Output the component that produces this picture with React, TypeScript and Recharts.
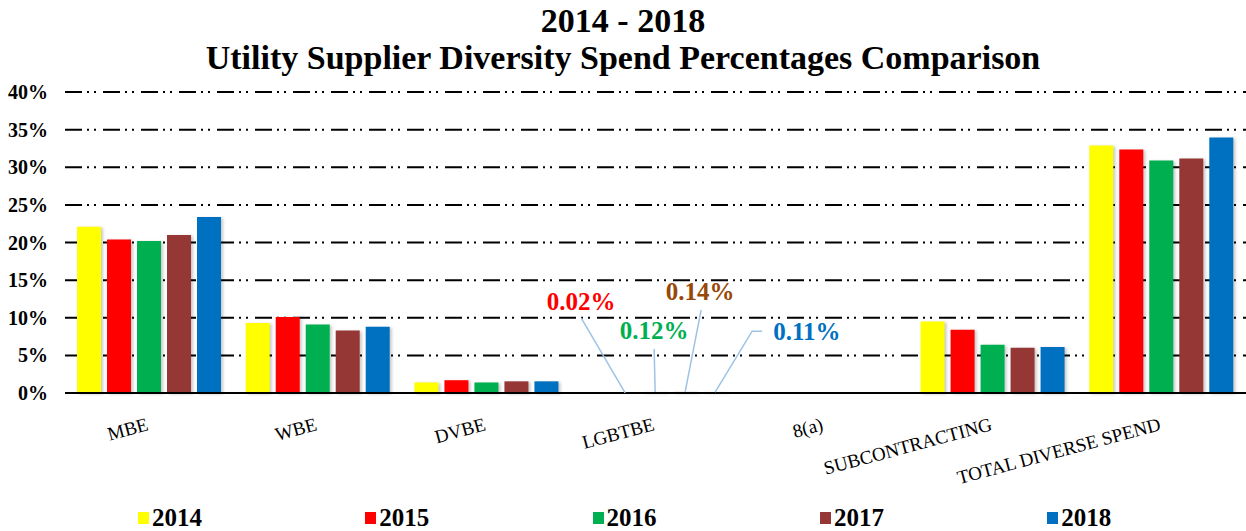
import React from 'react';
import { BarChart, Bar, XAxis, YAxis, CartesianGrid, LabelList, Rectangle } from 'recharts';

const categories = ['MBE', 'WBE', 'DVBE', 'LGBTBE', '8(a)', 'SUBCONTRACTING', 'TOTAL DIVERSE SPEND'];
const years = ['2014', '2015', '2016', '2017', '2018'];
const v2014 = [22.1, 9.3, 1.4, 0, 0, 9.5, 32.9];
const v2015 = [20.4, 10.1, 1.7, 0.02, 0, 8.4, 32.35];
const v2016 = [20.2, 9.1, 1.4, 0.12, 0, 6.4, 30.9];
const v2017 = [21.0, 8.3, 1.55, 0.14, 0, 6.0, 31.15];
const v2018 = [23.4, 8.8, 1.55, 0.11, 0, 6.1, 33.95];
const yTicks = [0, 5, 10, 15, 20, 25, 30, 35, 40];
const labeledCategory = 'LGBTBE';

const seriesValues = [v2014, v2015, v2016, v2017, v2018];
const colors = ['#FFFF00', '#FF0000', '#00B050', '#953735', '#0070C0'];
const labelColors = ['#FF0000', '#FF0000', '#00B050', '#984807', '#0070C0'];

// leader-label placement (styling) relative to the bar top centre
const leaderStyle: Record<string, any> = {
  '2015': { lx: -44, ly: -75, tx: -44, ty: -91, anchor: 'middle' },
  '2016': { lx: -1, ly: -43, tx: -1, ty: -61, anchor: 'middle' },
  '2017': { lx: 16, ly: -82, tx: 15, ty: -100, anchor: 'middle' },
  '2018': { lx: 37, ly: -61, ex: 47, tx: 58, ty: -60, anchor: 'start' },
};

const data = categories.map((c, i) => {
  const row: Record<string, any> = { name: c };
  years.forEach((y, k) => {
    row[y] = seriesValues[k][i];
  });
  return row;
});

const FONT = '"Liberation Serif", "DejaVu Serif", serif';

const XTick = (props: any) => {
  const { x, y, payload } = props;
  const ax = x;
  const ay = y + 29;
  return (
    <text
      x={ax}
      y={ay}
      textAnchor="end"
      transform={`rotate(-15, ${ax}, ${ay})`}
      fontFamily={FONT}
      fontSize={19}
      fill="#000"
    >
      {payload.value}
    </text>
  );
};

const YTick = (props: any) => {
  const { y, payload } = props;
  return (
    <text x={48} y={y} dy={7} textAnchor="end" fontFamily={FONT} fontWeight="bold" fontSize={20} fill="#000">
      {`${payload.value}%`}
    </text>
  );
};

const ShadowBar = (props: any) => (
  <Rectangle {...props} style={{ filter: 'drop-shadow(2px 1px 1.5px rgba(0,0,0,0.22))' }} />
);

const makeLeader = (year: string, color: string) => (props: any) => {
  const { x, y, width, value, index } = props;
  if (categories[index] !== labeledCategory) return null;
  const st = leaderStyle[year];
  if (!st || !value) return null;
  const bx = Number(x) + Number(width) / 2;
  const by = Number(y);
  const pts = st.ex !== undefined
    ? `${bx},${by} ${bx + st.lx},${by + st.ly} ${bx + st.ex},${by + st.ly}`
    : `${bx},${by} ${bx + st.lx},${by + st.ly}`;
  return (
    <g>
      <polyline points={pts} fill="none" stroke="#9DC3E6" strokeWidth={1.5} />
      <text
        x={bx + st.tx}
        y={by + st.ty}
        dy={8}
        textAnchor={st.anchor}
        fontFamily={FONT}
        fontWeight="bold"
        fontSize={25}
        fill={color}
      >
        {`${Number(value).toFixed(2)}%`}
      </text>
    </g>
  );
};

const LegendBlock = () => (
  <div style={{ position: 'absolute', left: 138, top: 506, height: 24, display: 'flex' }}>
    {years.map((y, k) => (
      <div key={y} style={{ width: 227.3, flexShrink: 0, display: 'flex', alignItems: 'center' }}>
        <span style={{ display: 'inline-block', width: 11, height: 12, background: colors[k], marginRight: 3 }} />
        <span style={{ fontFamily: FONT, fontWeight: 'bold', fontSize: 25, color: '#000', lineHeight: '24px' }}>{y}</span>
      </div>
    ))}
  </div>
);

export default function App() {
  return (
    <div style={{ position: 'absolute', left: 0, top: 0, width: 1246, height: 531, background: '#fff', overflow: 'hidden' }}>
      <div style={{ position: 'absolute', left: 0, top: 2, width: 1246, textAlign: 'center', fontFamily: FONT, fontWeight: 'bold', fontSize: 34, lineHeight: '37px', color: '#000' }}>
        <div>2014 - 2018</div>
        <div>Utility Supplier Diversity Spend Percentages Comparison</div>
      </div>
      <BarChart
        width={1246}
        height={531}
        data={data}
        margin={{ top: 92, right: 0, bottom: 0, left: 0 }}
        barSize={24}
        barGap={6}
        style={{ position: 'absolute', left: 0, top: 0 }}
      >
        <CartesianGrid vertical={false} stroke="#000" strokeWidth={2} strokeDasharray="17 5 2 5 2 7" />
        <XAxis
          dataKey="name"
          axisLine={{ stroke: '#000', strokeWidth: 2 }}
          tickLine={false}
          tick={<XTick />}
          interval={0}
          height={138}
        />
        <YAxis
          width={65}
          domain={[0, 40]}
          ticks={yTicks}
          interval={0}
          axisLine={false}
          tickLine={false}
          tick={<YTick />}
        />
        {years.map((y, k) => (
          <Bar key={y} dataKey={y} fill={colors[k]} isAnimationActive={false} shape={<ShadowBar />}>
            <LabelList dataKey={y} content={makeLeader(y, labelColors[k])} />
          </Bar>
        ))}
      </BarChart>
      <LegendBlock />
    </div>
  );
}
